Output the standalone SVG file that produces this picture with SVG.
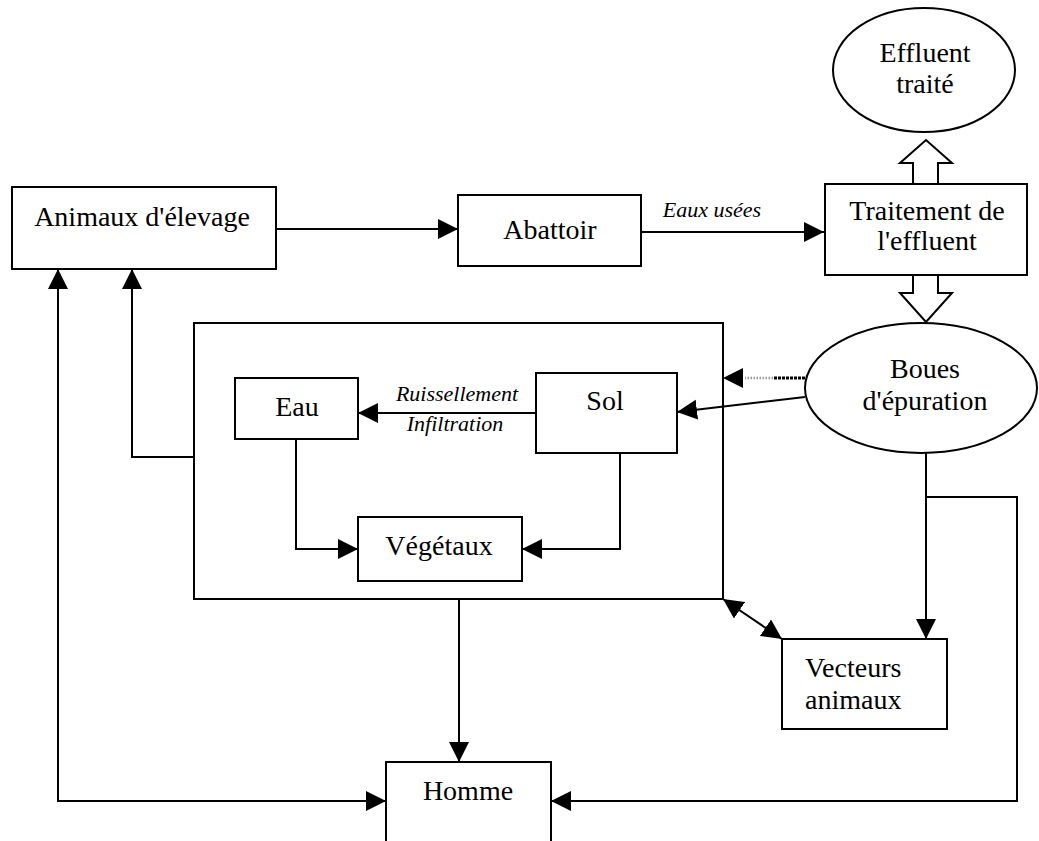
<svg xmlns="http://www.w3.org/2000/svg" width="1039" height="841" viewBox="0 0 1039 841">
<defs>
<style>
.n{fill:#fff;stroke:#000;stroke-width:2}
.t{font-family:"Liberation Serif","Times New Roman",serif;font-size:28px;fill:#000;text-anchor:middle}
.l{font-family:"Liberation Serif","Times New Roman",serif;font-size:22px;font-style:italic;fill:#000;text-anchor:middle}
.c{fill:none;stroke:#000;stroke-width:2}
</style>
<marker id="a" markerUnits="userSpaceOnUse" markerWidth="21" markerHeight="21" refX="20" refY="10" orient="auto-start-reverse" viewBox="0 0 21 21">
<path d="M0,0 L20,10 L0,20 z" fill="#000"/>
</marker>
</defs>
<rect width="1039" height="841" fill="#fff"/>

<g id="connectors">
<path class="c" d="M276,229 H458" marker-end="url(#a)"/>
<path class="c" d="M641,232 H824" marker-end="url(#a)"/>
<path d="M773,378 H745" stroke="#999" stroke-width="2.5" stroke-dasharray="1.5,1.5" fill="none"/>
<path d="M805,378 H773" stroke="#000" stroke-width="3" stroke-dasharray="3,1" fill="none"/>
<path d="M745,378 H723" stroke="none" fill="none" marker-end="url(#a)"/>
<path class="c" d="M805,397 L677,412" marker-end="url(#a)"/>
<path class="c" d="M536,413 H358" marker-end="url(#a)"/>
<path class="c" d="M296,439 V549 H358" marker-end="url(#a)"/>
<path class="c" d="M620,453 V549 H522" marker-end="url(#a)"/>
<path class="c" d="M194,457 H132 V269" marker-end="url(#a)"/>
<path class="c" d="M386,801 H58 V269" marker-start="url(#a)" marker-end="url(#a)"/>
<path class="c" d="M459,599 V762" marker-end="url(#a)"/>
<path class="c" d="M926,452 V639" marker-end="url(#a)"/>
<path class="c" d="M926,497 H1017 V801 H551" marker-end="url(#a)"/>
<path class="c" d="M723,599 L782,639" marker-start="url(#a)" marker-end="url(#a)"/>
<polygon class="n" points="913,184 913,163 900,163 926,140 952,163 938,163 938,184"/>
<polygon class="n" points="913,275 913,293 900,293 926,322 952,293 938,293 938,275"/>
<text class="l" x="712" y="217">Eaux usées</text>
<text class="l" x="457" y="401">Ruissellement</text>
<text class="l" x="455" y="431">Infiltration</text>
</g>

<g id="animaux">
<rect class="n" x="12" y="187" width="264" height="82"/>
<text class="t" x="142" y="226">Animaux d'élevage</text>
</g>
<g id="abattoir">
<rect class="n" x="458" y="195" width="183" height="71"/>
<text class="t" x="550" y="239">Abattoir</text>
</g>
<g id="traitement">
<rect class="n" x="825" y="184" width="202" height="91"/>
<text class="t" x="927" y="220">Traitement de</text>
<text class="t" x="927" y="250">l'effluent</text>
</g>
<g id="effluent">
<ellipse class="n" cx="924" cy="70" rx="91" ry="62"/>
<text class="t" x="925" y="62">Effluent</text>
<text class="t" x="925" y="93">traité</text>
</g>
<g id="boues">
<ellipse class="n" cx="921" cy="388" rx="116" ry="65"/>
<text class="t" x="925" y="378">Boues</text>
<text class="t" x="925" y="410">d'épuration</text>
</g>
<g id="environnement">
<rect x="194" y="323" width="529" height="276" fill="none" stroke="#000" stroke-width="2"/>
</g>
<g id="eau">
<rect class="n" x="235" y="378" width="123" height="61"/>
<text class="t" x="297" y="416">Eau</text>
</g>
<g id="sol">
<rect class="n" x="536" y="373" width="141" height="80"/>
<text class="t" x="605" y="410">Sol</text>
</g>
<g id="vegetaux">
<rect class="n" x="358" y="517" width="164" height="64"/>
<text class="t" x="439" y="555">Végétaux</text>
</g>
<g id="vecteurs">
<rect class="n" x="782" y="639" width="165" height="90"/>
<text class="t" x="805" y="677" style="text-anchor:start">Vecteurs</text>
<text class="t" x="805" y="709" style="text-anchor:start">animaux</text>
</g>
<g id="homme">
<rect class="n" x="386" y="762" width="165" height="100"/>
<text class="t" x="468" y="800">Homme</text>
</g>
</svg>
